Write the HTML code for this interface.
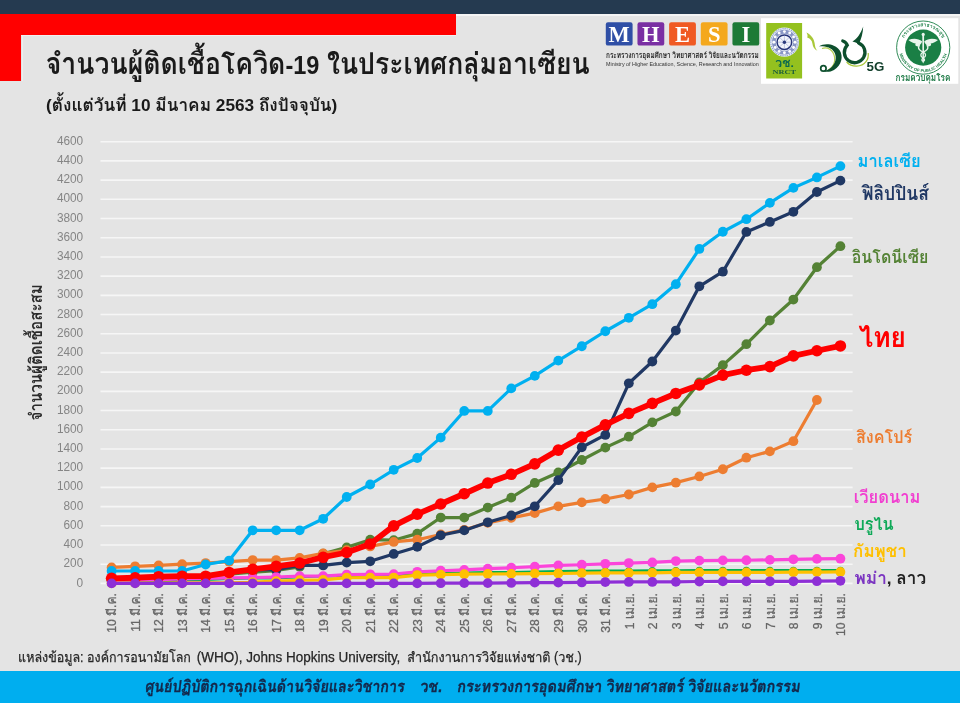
<!DOCTYPE html>
<html lang="th">
<head>
<meta charset="utf-8">
<title>จำนวนผู้ติดเชื้อโควิด-19 ในประเทศกลุ่มอาเซียน</title>
<style>
  html, body { margin: 0; padding: 0; }
  body {
    width: 960px; height: 703px; overflow: hidden; position: relative;
    background: #e4e4e4;
    font-family: "Liberation Sans", "Loma", "Noto Sans Thai Looped", "Noto Sans Thai", sans-serif;
    color: #111;
  }
  .abs { position: absolute; white-space: nowrap; line-height: 1; }
  .topbar { left: 0; top: 0; width: 960px; height: 14px; background: #253a50; }
  .topedge { left: 456px; top: 14px; width: 504px; height: 1.5px; background: #f4f4f4; }
  .redh { left: 0; top: 14px; width: 456px; height: 21px; background: #ff0000; }
  .redv { left: 0; top: 14px; width: 21px; height: 67px; background: #ff0000; }
  .edgeh { left: 21px; top: 35px; width: 435px; height: 1px; background: #f0f0f0; }
  .edgev { left: 21.5px; top: 35px; width: 1px; height: 46px; background: #eeeeee; }
  .footbar { left: 0; top: 671px; width: 960px; height: 32px; background: #00aeef; }
  .chart { position: absolute; left: 0; top: 0; }
  svg text { font-family: "Liberation Sans", "Loma", "Noto Sans Thai Looped", "Noto Sans Thai", sans-serif; }
  svg text.serif { font-family: "Liberation Serif", "DejaVu Serif", serif; }
</style>
</head>
<body>
<div class="abs topbar"></div>
<div class="abs topedge"></div>
<div class="abs edgeh"></div>
<div class="abs edgev"></div>
<div class="abs redh"></div>
<div class="abs redv"></div>
<div class="abs footbar"></div>


<svg class="chart logos" width="960" height="703" viewBox="0 0 960 703">
<rect x="605.80" y="22.2" width="26.8" height="23.4" rx="2.2" fill="#2f4fa6"/>
<text x="619.20" y="42.2" class="serif" font-weight="700" font-size="22.5" fill="#fff" text-anchor="middle">M</text>
<rect x="637.46" y="22.2" width="26.8" height="23.4" rx="2.2" fill="#7a2fa3"/>
<text x="650.86" y="42.2" class="serif" font-weight="700" font-size="22.5" fill="#fff" text-anchor="middle">H</text>
<rect x="669.12" y="22.2" width="26.8" height="23.4" rx="2.2" fill="#f05a23"/>
<text x="682.52" y="42.2" class="serif" font-weight="700" font-size="22.5" fill="#fff" text-anchor="middle">E</text>
<rect x="700.78" y="22.2" width="26.8" height="23.4" rx="2.2" fill="#f4a81d"/>
<text x="714.18" y="42.2" class="serif" font-weight="700" font-size="22.5" fill="#fff" text-anchor="middle">S</text>
<rect x="732.44" y="22.2" width="26.8" height="23.4" rx="2.2" fill="#1d7a36"/>
<text x="745.84" y="42.2" class="serif" font-weight="700" font-size="22.5" fill="#fff" text-anchor="middle">I</text>
<text x="606" y="58.2" font-size="7.8" font-weight="700" fill="#222" textLength="152.8" lengthAdjust="spacingAndGlyphs">กระทรวงการอุดมศึกษา วิทยาศาสตร์ วิจัยและนวัตกรรม</text>
<text x="606" y="66.2" font-size="5.6" fill="#333" textLength="152.8" lengthAdjust="spacingAndGlyphs">Ministry of Higher Education, Science, Research and Innovation</text>
<rect x="761" y="18.2" width="197.3" height="65.6" fill="#ffffff"/>
<rect x="766.2" y="23" width="35.9" height="55.5" fill="#94c11f"/>
<circle cx="784.4" cy="42.2" r="14.6" fill="#e9eef8"/>
<circle cx="784.4" cy="42.2" r="13.6" fill="none" stroke="#8fa0cf" stroke-width="1.1" stroke-dasharray="1.3 0.9"/>
<circle cx="784.4" cy="42.2" r="10.6" fill="none" stroke="#3b4f9a" stroke-width="3.6" opacity="0.55"/>
<circle cx="795.00" cy="42.20" r="1.45" fill="#fff"/>
<circle cx="793.58" cy="47.50" r="1.45" fill="#fff"/>
<circle cx="789.70" cy="51.38" r="1.45" fill="#fff"/>
<circle cx="784.40" cy="52.80" r="1.45" fill="#fff"/>
<circle cx="779.10" cy="51.38" r="1.45" fill="#fff"/>
<circle cx="775.22" cy="47.50" r="1.45" fill="#fff"/>
<circle cx="773.80" cy="42.20" r="1.45" fill="#fff"/>
<circle cx="775.22" cy="36.90" r="1.45" fill="#fff"/>
<circle cx="779.10" cy="33.02" r="1.45" fill="#fff"/>
<circle cx="784.40" cy="31.60" r="1.45" fill="#fff"/>
<circle cx="789.70" cy="33.02" r="1.45" fill="#fff"/>
<circle cx="793.58" cy="36.90" r="1.45" fill="#fff"/>
<circle cx="784.4" cy="42.2" r="7.3" fill="#f3f5fb" stroke="#27357a" stroke-width="1.5"/>
<line x1="784.4" y1="42.2" x2="790.90" y2="42.20" stroke="#9aa6d0" stroke-width="0.6"/>
<line x1="784.4" y1="42.2" x2="789.00" y2="46.80" stroke="#9aa6d0" stroke-width="0.6"/>
<line x1="784.4" y1="42.2" x2="784.40" y2="48.70" stroke="#9aa6d0" stroke-width="0.6"/>
<line x1="784.4" y1="42.2" x2="779.80" y2="46.80" stroke="#9aa6d0" stroke-width="0.6"/>
<line x1="784.4" y1="42.2" x2="777.90" y2="42.20" stroke="#9aa6d0" stroke-width="0.6"/>
<line x1="784.4" y1="42.2" x2="779.80" y2="37.60" stroke="#9aa6d0" stroke-width="0.6"/>
<line x1="784.4" y1="42.2" x2="784.40" y2="35.70" stroke="#9aa6d0" stroke-width="0.6"/>
<line x1="784.4" y1="42.2" x2="789.00" y2="37.60" stroke="#9aa6d0" stroke-width="0.6"/>
<circle cx="784.4" cy="42.2" r="1.7" fill="#2b3a7c"/>
<text x="784.6" y="66.6" font-size="11.8" font-weight="700" fill="#0d6a4e" text-anchor="middle" textLength="18.5" lengthAdjust="spacingAndGlyphs">วช.</text>
<text x="784.2" y="73.9" class="serif" font-size="6.9" font-weight="700" fill="#1a5c3a" text-anchor="middle" textLength="23.6" lengthAdjust="spacingAndGlyphs">NRCT</text>
<path d="M806.4 32.6 C810.6 34.6 813.8 38.4 814.6 43 C815 46.4 815.4 48.8 817.4 50.8 C814.2 49.2 812.8 46.6 812.4 43.4 C812 40.6 810.6 38.6 807.2 37.4 C808 35.8 807.4 34.2 806.4 32.6 Z" fill="#a9c838"/>
<path d="M822 48.5 C827 46.5 833.5 49.5 834.6 57.5 C835.3 63 832.5 67.5 828.5 70" fill="none" stroke="#a9c838" stroke-width="1.1" opacity="0.9"/>
<path d="M818.8 46.4 C824.5 42.6 834.5 43.4 839.6 50.2 C843.6 56 841.8 65.4 834 69.9 C830.6 71.9 826.6 72.3 823.6 71.2 C829.6 70.2 834 66 835.4 60.6 C836.8 54.6 833.8 49.6 828.6 47.6 C825.4 46.4 821.8 46.2 818.8 46.4 Z" fill="#0d4f2d"/>
<circle cx="823.4" cy="68.4" r="2.7" fill="none" stroke="#0d4f2d" stroke-width="1.7"/>
<path d="M858.6 42.9 A10.3 10.3 0 1 1 847.3 45.2 C846.6 43.2 845 41.6 842.8 41" fill="none" stroke="#0d4f2d" stroke-width="3.3" stroke-linecap="round"/>
<path d="M852.4 41.4 C856.6 39.2 860.8 33.6 863.2 26.4 C863 33 861.2 39.2 858.8 44.2 C856.8 42.6 854.6 41.8 852.4 41.4 Z" fill="#0d4f2d"/>
<path d="M846.6 62 C851.6 67.6 861.6 67.6 866.2 61.4 C868 59 868.6 56 868.2 53" fill="none" stroke="#a9c838" stroke-width="1.2"/>
<text x="866.6" y="71.3" font-size="12.2" font-weight="700" fill="#123f2b" textLength="17.8" lengthAdjust="spacingAndGlyphs">5G</text>
<circle cx="923.2" cy="47.6" r="26.6" fill="#fff" stroke="#1a7f45" stroke-width="0.9"/>
<circle cx="923.2" cy="47.6" r="18.1" fill="#1a7f45"/>
<defs><path id="arcT" d="M902.00 47.60 A21.2 21.2 0 0 1 944.40 47.60"/><path id="arcB" d="M898.60 47.60 A24.6 24.6 0 0 0 947.80 47.60"/></defs>
<text font-size="5.2" font-weight="700" fill="#1a7f45" text-anchor="middle"><textPath href="#arcT" startOffset="50%">กระทรวงสาธารณสุข</textPath></text>
<text font-size="4.1" font-weight="700" fill="#1a7f45" text-anchor="middle" letter-spacing="0.15"><textPath href="#arcB" startOffset="50%">MINISTRY OF PUBLIC HEALTH</textPath></text>
<path d="M922.3000000000001 34.6 L924.1 34.6 L923.9000000000001 62.1 L923.2 63.6 L922.5 62.1 Z" fill="#e9f5ec"/>
<circle cx="923.2" cy="34.400000000000006" r="1.6" fill="#e9f5ec"/>
<path d="M922.2 41.6 C918.2 38.1 913.2 38.1 908.4000000000001 40.0 C911.2 42.6 913.7 43.2 915.8000000000001 43.6 C914.4000000000001 45.4 916.2 46.6 918.0 46.4 C919.6 45.6 921.2 44.0 922.2 41.6 Z" fill="#e9f5ec"/>
<path d="M924.2 41.6 C928.2 38.1 933.2 38.1 938.0 40.0 C935.2 42.6 932.7 43.2 930.6 43.6 C932.0 45.4 930.2 46.6 928.4000000000001 46.4 C926.8000000000001 45.6 925.2 44.0 924.2 41.6 Z" fill="#e9f5ec"/>
<path d="M919.6 45.1 C916.7 48.6 920.2 50.800000000000004 923.2 52.2 C926.2 53.6 926.6 56.2 923.2 58.0 C921.2 59.2 921.6 60.6 923.2 61.2" fill="none" stroke="#e9f5ec" stroke-width="1.3"/>
<path d="M926.8000000000001 45.1 C929.7 48.6 926.2 50.800000000000004 923.2 52.2 C920.2 53.6 919.8000000000001 56.2 923.2 58.0 C925.2 59.2 924.8000000000001 60.6 923.2 61.2" fill="none" stroke="#e9f5ec" stroke-width="1.3"/>
<text x="895.6" y="81.4" font-size="9.6" font-weight="700" fill="#1e7a46" textLength="54.8" lengthAdjust="spacingAndGlyphs">กรมควบคุมโรค</text>
</svg>

<svg class="chart" width="960" height="703" viewBox="0 0 960 703" >
<g class="grid" stroke="#f6f6f6" stroke-width="1.6">
<line x1="100.5" x2="852.6" y1="583.40" y2="583.40"/>
<line x1="100.5" x2="852.6" y1="564.20" y2="564.20"/>
<line x1="100.5" x2="852.6" y1="544.99" y2="544.99"/>
<line x1="100.5" x2="852.6" y1="525.79" y2="525.79"/>
<line x1="100.5" x2="852.6" y1="506.58" y2="506.58"/>
<line x1="100.5" x2="852.6" y1="487.38" y2="487.38"/>
<line x1="100.5" x2="852.6" y1="468.17" y2="468.17"/>
<line x1="100.5" x2="852.6" y1="448.97" y2="448.97"/>
<line x1="100.5" x2="852.6" y1="429.77" y2="429.77"/>
<line x1="100.5" x2="852.6" y1="410.56" y2="410.56"/>
<line x1="100.5" x2="852.6" y1="391.36" y2="391.36"/>
<line x1="100.5" x2="852.6" y1="372.15" y2="372.15"/>
<line x1="100.5" x2="852.6" y1="352.95" y2="352.95"/>
<line x1="100.5" x2="852.6" y1="333.74" y2="333.74"/>
<line x1="100.5" x2="852.6" y1="314.54" y2="314.54"/>
<line x1="100.5" x2="852.6" y1="295.33" y2="295.33"/>
<line x1="100.5" x2="852.6" y1="276.13" y2="276.13"/>
<line x1="100.5" x2="852.6" y1="256.93" y2="256.93"/>
<line x1="100.5" x2="852.6" y1="237.72" y2="237.72"/>
<line x1="100.5" x2="852.6" y1="218.52" y2="218.52"/>
<line x1="100.5" x2="852.6" y1="199.31" y2="199.31"/>
<line x1="100.5" x2="852.6" y1="180.11" y2="180.11"/>
<line x1="100.5" x2="852.6" y1="160.90" y2="160.90"/>
<line x1="100.5" x2="852.6" y1="141.70" y2="141.70"/>
</g>
<g class="ylab" font-size="12.8" fill="#858585" text-anchor="end">
<text x="83.2" y="586.50" textLength="6.6" lengthAdjust="spacingAndGlyphs">0</text>
<text x="83.2" y="567.30" textLength="19.7" lengthAdjust="spacingAndGlyphs">200</text>
<text x="83.2" y="548.09" textLength="19.7" lengthAdjust="spacingAndGlyphs">400</text>
<text x="83.2" y="528.89" textLength="19.7" lengthAdjust="spacingAndGlyphs">600</text>
<text x="83.2" y="509.68" textLength="19.7" lengthAdjust="spacingAndGlyphs">800</text>
<text x="83.2" y="490.48" textLength="26.3" lengthAdjust="spacingAndGlyphs">1000</text>
<text x="83.2" y="471.27" textLength="26.3" lengthAdjust="spacingAndGlyphs">1200</text>
<text x="83.2" y="452.07" textLength="26.3" lengthAdjust="spacingAndGlyphs">1400</text>
<text x="83.2" y="432.87" textLength="26.3" lengthAdjust="spacingAndGlyphs">1600</text>
<text x="83.2" y="413.66" textLength="26.3" lengthAdjust="spacingAndGlyphs">1800</text>
<text x="83.2" y="394.46" textLength="26.3" lengthAdjust="spacingAndGlyphs">2000</text>
<text x="83.2" y="375.25" textLength="26.3" lengthAdjust="spacingAndGlyphs">2200</text>
<text x="83.2" y="356.05" textLength="26.3" lengthAdjust="spacingAndGlyphs">2400</text>
<text x="83.2" y="336.84" textLength="26.3" lengthAdjust="spacingAndGlyphs">2600</text>
<text x="83.2" y="317.64" textLength="26.3" lengthAdjust="spacingAndGlyphs">2800</text>
<text x="83.2" y="298.43" textLength="26.3" lengthAdjust="spacingAndGlyphs">3000</text>
<text x="83.2" y="279.23" textLength="26.3" lengthAdjust="spacingAndGlyphs">3200</text>
<text x="83.2" y="260.03" textLength="26.3" lengthAdjust="spacingAndGlyphs">3400</text>
<text x="83.2" y="240.82" textLength="26.3" lengthAdjust="spacingAndGlyphs">3600</text>
<text x="83.2" y="221.62" textLength="26.3" lengthAdjust="spacingAndGlyphs">3800</text>
<text x="83.2" y="202.41" textLength="26.3" lengthAdjust="spacingAndGlyphs">4000</text>
<text x="83.2" y="183.21" textLength="26.3" lengthAdjust="spacingAndGlyphs">4200</text>
<text x="83.2" y="164.00" textLength="26.3" lengthAdjust="spacingAndGlyphs">4400</text>
<text x="83.2" y="144.80" textLength="26.3" lengthAdjust="spacingAndGlyphs">4600</text>
</g>
<g class="xlab" font-size="12.8" fill="#666666" stroke="#666666" stroke-width="0.3" text-anchor="end">
<text transform="translate(116.30 593.0) rotate(-90) scale(0.95 1)">10 มี.ค.</text>
<text transform="translate(139.81 593.0) rotate(-90) scale(0.95 1)">11 มี.ค.</text>
<text transform="translate(163.32 593.0) rotate(-90) scale(0.95 1)">12 มี.ค.</text>
<text transform="translate(186.83 593.0) rotate(-90) scale(0.95 1)">13 มี.ค.</text>
<text transform="translate(210.34 593.0) rotate(-90) scale(0.95 1)">14 มี.ค.</text>
<text transform="translate(233.85 593.0) rotate(-90) scale(0.95 1)">15 มี.ค.</text>
<text transform="translate(257.36 593.0) rotate(-90) scale(0.95 1)">16 มี.ค.</text>
<text transform="translate(280.87 593.0) rotate(-90) scale(0.95 1)">17 มี.ค.</text>
<text transform="translate(304.38 593.0) rotate(-90) scale(0.95 1)">18 มี.ค.</text>
<text transform="translate(327.89 593.0) rotate(-90) scale(0.95 1)">19 มี.ค.</text>
<text transform="translate(351.40 593.0) rotate(-90) scale(0.95 1)">20 มี.ค.</text>
<text transform="translate(374.91 593.0) rotate(-90) scale(0.95 1)">21 มี.ค.</text>
<text transform="translate(398.42 593.0) rotate(-90) scale(0.95 1)">22 มี.ค.</text>
<text transform="translate(421.93 593.0) rotate(-90) scale(0.95 1)">23 มี.ค.</text>
<text transform="translate(445.44 593.0) rotate(-90) scale(0.95 1)">24 มี.ค.</text>
<text transform="translate(468.95 593.0) rotate(-90) scale(0.95 1)">25 มี.ค.</text>
<text transform="translate(492.46 593.0) rotate(-90) scale(0.95 1)">26 มี.ค.</text>
<text transform="translate(515.97 593.0) rotate(-90) scale(0.95 1)">27 มี.ค.</text>
<text transform="translate(539.48 593.0) rotate(-90) scale(0.95 1)">28 มี.ค.</text>
<text transform="translate(562.99 593.0) rotate(-90) scale(0.95 1)">29 มี.ค.</text>
<text transform="translate(586.50 593.0) rotate(-90) scale(0.95 1)">30 มี.ค.</text>
<text transform="translate(610.01 593.0) rotate(-90) scale(0.95 1)">31 มี.ค.</text>
<text transform="translate(633.52 593.0) rotate(-90) scale(0.95 1)">1 เม.ย.</text>
<text transform="translate(657.03 593.0) rotate(-90) scale(0.95 1)">2 เม.ย.</text>
<text transform="translate(680.54 593.0) rotate(-90) scale(0.95 1)">3 เม.ย.</text>
<text transform="translate(704.05 593.0) rotate(-90) scale(0.95 1)">4 เม.ย.</text>
<text transform="translate(727.56 593.0) rotate(-90) scale(0.95 1)">5 เม.ย.</text>
<text transform="translate(751.07 593.0) rotate(-90) scale(0.95 1)">6 เม.ย.</text>
<text transform="translate(774.58 593.0) rotate(-90) scale(0.95 1)">7 เม.ย.</text>
<text transform="translate(798.09 593.0) rotate(-90) scale(0.95 1)">8 เม.ย.</text>
<text transform="translate(821.60 593.0) rotate(-90) scale(0.95 1)">9 เม.ย.</text>
<text transform="translate(845.11 593.0) rotate(-90) scale(0.95 1)">10 เม.ย.</text>
</g>
<g class="s-id" fill="#548235" stroke="none"><polyline points="111.60,580.81 135.11,580.81 158.62,580.14 182.13,580.14 205.64,576.77 229.15,574.18 252.66,572.17 276.17,570.53 299.68,566.88 323.19,553.73 346.70,547.39 370.21,539.71 393.72,540.19 417.23,533.66 440.74,517.53 464.25,517.53 487.76,507.54 511.27,497.65 534.78,482.96 558.29,472.49 581.80,460.01 605.31,447.63 628.82,436.68 652.33,422.37 675.84,411.52 699.35,382.52 722.86,365.14 746.37,344.21 769.88,320.49 793.39,299.56 816.90,267.20 840.41,246.17" fill="none" stroke="#548235" stroke-width="3.2" stroke-linejoin="round" stroke-linecap="round"/>
<circle cx="111.60" cy="580.81" r="4.9"/><circle cx="135.11" cy="580.81" r="4.9"/><circle cx="158.62" cy="580.14" r="4.9"/><circle cx="182.13" cy="580.14" r="4.9"/><circle cx="205.64" cy="576.77" r="4.9"/><circle cx="229.15" cy="574.18" r="4.9"/><circle cx="252.66" cy="572.17" r="4.9"/><circle cx="276.17" cy="570.53" r="4.9"/><circle cx="299.68" cy="566.88" r="4.9"/><circle cx="323.19" cy="553.73" r="4.9"/><circle cx="346.70" cy="547.39" r="4.9"/><circle cx="370.21" cy="539.71" r="4.9"/><circle cx="393.72" cy="540.19" r="4.9"/><circle cx="417.23" cy="533.66" r="4.9"/><circle cx="440.74" cy="517.53" r="4.9"/><circle cx="464.25" cy="517.53" r="4.9"/><circle cx="487.76" cy="507.54" r="4.9"/><circle cx="511.27" cy="497.65" r="4.9"/><circle cx="534.78" cy="482.96" r="4.9"/><circle cx="558.29" cy="472.49" r="4.9"/><circle cx="581.80" cy="460.01" r="4.9"/><circle cx="605.31" cy="447.63" r="4.9"/><circle cx="628.82" cy="436.68" r="4.9"/><circle cx="652.33" cy="422.37" r="4.9"/><circle cx="675.84" cy="411.52" r="4.9"/><circle cx="699.35" cy="382.52" r="4.9"/><circle cx="722.86" cy="365.14" r="4.9"/><circle cx="746.37" cy="344.21" r="4.9"/><circle cx="769.88" cy="320.49" r="4.9"/><circle cx="793.39" cy="299.56" r="4.9"/><circle cx="816.90" cy="267.20" r="4.9"/><circle cx="840.41" cy="246.17" r="4.9"/>
</g>
<g class="s-sg" fill="#ED7D31" stroke="none"><polyline points="111.60,567.46 135.11,566.31 158.62,565.44 182.13,564.20 205.64,563.04 229.15,561.70 252.66,560.07 276.17,560.07 299.68,557.86 323.19,553.35 346.70,550.27 370.21,546.43 393.72,541.92 417.23,539.71 440.74,534.52 464.25,529.82 487.76,522.81 511.27,517.82 534.78,513.11 558.29,506.39 581.80,502.36 605.31,499.00 628.82,494.48 652.33,487.38 675.84,482.67 699.35,476.43 722.86,469.23 746.37,457.71 769.88,451.37 793.39,441.19 816.90,400.00" fill="none" stroke="#ED7D31" stroke-width="3.2" stroke-linejoin="round" stroke-linecap="round"/>
<circle cx="111.60" cy="567.46" r="4.9"/><circle cx="135.11" cy="566.31" r="4.9"/><circle cx="158.62" cy="565.44" r="4.9"/><circle cx="182.13" cy="564.20" r="4.9"/><circle cx="205.64" cy="563.04" r="4.9"/><circle cx="229.15" cy="561.70" r="4.9"/><circle cx="252.66" cy="560.07" r="4.9"/><circle cx="276.17" cy="560.07" r="4.9"/><circle cx="299.68" cy="557.86" r="4.9"/><circle cx="323.19" cy="553.35" r="4.9"/><circle cx="346.70" cy="550.27" r="4.9"/><circle cx="370.21" cy="546.43" r="4.9"/><circle cx="393.72" cy="541.92" r="4.9"/><circle cx="417.23" cy="539.71" r="4.9"/><circle cx="440.74" cy="534.52" r="4.9"/><circle cx="464.25" cy="529.82" r="4.9"/><circle cx="487.76" cy="522.81" r="4.9"/><circle cx="511.27" cy="517.82" r="4.9"/><circle cx="534.78" cy="513.11" r="4.9"/><circle cx="558.29" cy="506.39" r="4.9"/><circle cx="581.80" cy="502.36" r="4.9"/><circle cx="605.31" cy="499.00" r="4.9"/><circle cx="628.82" cy="494.48" r="4.9"/><circle cx="652.33" cy="487.38" r="4.9"/><circle cx="675.84" cy="482.67" r="4.9"/><circle cx="699.35" cy="476.43" r="4.9"/><circle cx="722.86" cy="469.23" r="4.9"/><circle cx="746.37" cy="457.71" r="4.9"/><circle cx="769.88" cy="451.37" r="4.9"/><circle cx="793.39" cy="441.19" r="4.9"/><circle cx="816.90" cy="400.00" r="4.9"/>
</g>
<g class="s-my" fill="#00B0F0" stroke="none"><polyline points="111.60,571.01 135.11,571.01 158.62,571.01 182.13,571.01 205.64,564.48 229.15,560.55 252.66,530.30 276.17,530.30 299.68,530.30 323.19,518.78 346.70,496.98 370.21,484.50 393.72,469.81 417.23,458.00 440.74,437.64 464.25,410.94 487.76,410.94 511.27,388.38 534.78,375.90 558.29,360.63 581.80,346.23 605.31,331.25 628.82,317.80 652.33,304.17 675.84,284.20 699.35,248.96 722.86,231.77 746.37,219.19 769.88,202.87 793.39,187.89 816.90,177.42 840.41,166.09" fill="none" stroke="#00B0F0" stroke-width="3.2" stroke-linejoin="round" stroke-linecap="round"/>
<circle cx="111.60" cy="571.01" r="4.9"/><circle cx="135.11" cy="571.01" r="4.9"/><circle cx="158.62" cy="571.01" r="4.9"/><circle cx="182.13" cy="571.01" r="4.9"/><circle cx="205.64" cy="564.48" r="4.9"/><circle cx="229.15" cy="560.55" r="4.9"/><circle cx="252.66" cy="530.30" r="4.9"/><circle cx="276.17" cy="530.30" r="4.9"/><circle cx="299.68" cy="530.30" r="4.9"/><circle cx="323.19" cy="518.78" r="4.9"/><circle cx="346.70" cy="496.98" r="4.9"/><circle cx="370.21" cy="484.50" r="4.9"/><circle cx="393.72" cy="469.81" r="4.9"/><circle cx="417.23" cy="458.00" r="4.9"/><circle cx="440.74" cy="437.64" r="4.9"/><circle cx="464.25" cy="410.94" r="4.9"/><circle cx="487.76" cy="410.94" r="4.9"/><circle cx="511.27" cy="388.38" r="4.9"/><circle cx="534.78" cy="375.90" r="4.9"/><circle cx="558.29" cy="360.63" r="4.9"/><circle cx="581.80" cy="346.23" r="4.9"/><circle cx="605.31" cy="331.25" r="4.9"/><circle cx="628.82" cy="317.80" r="4.9"/><circle cx="652.33" cy="304.17" r="4.9"/><circle cx="675.84" cy="284.20" r="4.9"/><circle cx="699.35" cy="248.96" r="4.9"/><circle cx="722.86" cy="231.77" r="4.9"/><circle cx="746.37" cy="219.19" r="4.9"/><circle cx="769.88" cy="202.87" r="4.9"/><circle cx="793.39" cy="187.89" r="4.9"/><circle cx="816.90" cy="177.42" r="4.9"/><circle cx="840.41" cy="166.09" r="4.9"/>
</g>
<g class="s-ph" fill="#203864" stroke="none"><polyline points="111.60,580.23 135.11,578.69 158.62,578.41 182.13,577.25 205.64,577.25 229.15,572.74 252.66,569.96 276.17,569.76 299.68,565.44 323.19,565.44 346.70,562.56 370.21,561.31 393.72,553.92 417.23,546.91 440.74,535.29 464.25,530.40 487.76,522.33 511.27,515.51 534.78,506.29 558.29,480.18 581.80,447.24 605.31,434.95 628.82,383.29 652.33,361.49 675.84,330.57 699.35,286.31 722.86,271.71 746.37,231.96 769.88,221.97 793.39,211.80 816.90,192.02 840.41,180.59" fill="none" stroke="#203864" stroke-width="3.2" stroke-linejoin="round" stroke-linecap="round"/>
<circle cx="111.60" cy="580.23" r="4.9"/><circle cx="135.11" cy="578.69" r="4.9"/><circle cx="158.62" cy="578.41" r="4.9"/><circle cx="182.13" cy="577.25" r="4.9"/><circle cx="205.64" cy="577.25" r="4.9"/><circle cx="229.15" cy="572.74" r="4.9"/><circle cx="252.66" cy="569.96" r="4.9"/><circle cx="276.17" cy="569.76" r="4.9"/><circle cx="299.68" cy="565.44" r="4.9"/><circle cx="323.19" cy="565.44" r="4.9"/><circle cx="346.70" cy="562.56" r="4.9"/><circle cx="370.21" cy="561.31" r="4.9"/><circle cx="393.72" cy="553.92" r="4.9"/><circle cx="417.23" cy="546.91" r="4.9"/><circle cx="440.74" cy="535.29" r="4.9"/><circle cx="464.25" cy="530.40" r="4.9"/><circle cx="487.76" cy="522.33" r="4.9"/><circle cx="511.27" cy="515.51" r="4.9"/><circle cx="534.78" cy="506.29" r="4.9"/><circle cx="558.29" cy="480.18" r="4.9"/><circle cx="581.80" cy="447.24" r="4.9"/><circle cx="605.31" cy="434.95" r="4.9"/><circle cx="628.82" cy="383.29" r="4.9"/><circle cx="652.33" cy="361.49" r="4.9"/><circle cx="675.84" cy="330.57" r="4.9"/><circle cx="699.35" cy="286.31" r="4.9"/><circle cx="722.86" cy="271.71" r="4.9"/><circle cx="746.37" cy="231.96" r="4.9"/><circle cx="769.88" cy="221.97" r="4.9"/><circle cx="793.39" cy="211.80" r="4.9"/><circle cx="816.90" cy="192.02" r="4.9"/><circle cx="840.41" cy="180.59" r="4.9"/>
</g>
<g class="s-bn" fill="#00B050" stroke="none"><polyline points="111.60,583.30 135.11,582.34 158.62,581.00 182.13,579.85 205.64,579.56 229.15,578.60 252.66,578.21 276.17,578.02 299.68,576.87 323.19,576.20 346.70,575.91 370.21,575.43 393.72,574.95 417.23,574.66 440.74,573.41 464.25,572.93 487.76,572.45 511.27,572.36 534.78,571.88 558.29,571.30 581.80,571.21 605.31,571.01 628.82,570.82 652.33,570.63 675.84,570.53 699.35,570.44 722.86,570.44 746.37,570.44 769.88,570.44 793.39,570.44 816.90,570.44 840.41,570.34" fill="none" stroke="#00B050" stroke-width="2.8" stroke-linejoin="round" stroke-linecap="round"/>
<circle cx="111.60" cy="583.30" r="3.6"/><circle cx="135.11" cy="582.34" r="3.6"/><circle cx="158.62" cy="581.00" r="3.6"/><circle cx="182.13" cy="579.85" r="3.6"/><circle cx="205.64" cy="579.56" r="3.6"/><circle cx="229.15" cy="578.60" r="3.6"/><circle cx="252.66" cy="578.21" r="3.6"/><circle cx="276.17" cy="578.02" r="3.6"/><circle cx="299.68" cy="576.87" r="3.6"/><circle cx="323.19" cy="576.20" r="3.6"/><circle cx="346.70" cy="575.91" r="3.6"/><circle cx="370.21" cy="575.43" r="3.6"/><circle cx="393.72" cy="574.95" r="3.6"/><circle cx="417.23" cy="574.66" r="3.6"/><circle cx="440.74" cy="573.41" r="3.6"/><circle cx="464.25" cy="572.93" r="3.6"/><circle cx="487.76" cy="572.45" r="3.6"/><circle cx="511.27" cy="572.36" r="3.6"/><circle cx="534.78" cy="571.88" r="3.6"/><circle cx="558.29" cy="571.30" r="3.6"/><circle cx="581.80" cy="571.21" r="3.6"/><circle cx="605.31" cy="571.01" r="3.6"/><circle cx="628.82" cy="570.82" r="3.6"/><circle cx="652.33" cy="570.63" r="3.6"/><circle cx="675.84" cy="570.53" r="3.6"/><circle cx="699.35" cy="570.44" r="3.6"/><circle cx="722.86" cy="570.44" r="3.6"/><circle cx="746.37" cy="570.44" r="3.6"/><circle cx="769.88" cy="570.44" r="3.6"/><circle cx="793.39" cy="570.44" r="3.6"/><circle cx="816.90" cy="570.44" r="3.6"/><circle cx="840.41" cy="570.34" r="3.6"/>
</g>
<g class="s-vn" fill="#FB45DA" stroke="none"><polyline points="111.60,580.42 135.11,580.04 158.62,579.66 182.13,578.89 205.64,578.31 229.15,577.93 252.66,577.54 276.17,577.06 299.68,576.10 323.19,576.10 346.70,574.57 370.21,574.28 393.72,574.18 417.23,571.78 440.74,570.73 464.25,569.86 487.76,568.71 511.27,567.75 534.78,566.69 558.29,565.35 581.80,564.77 605.31,563.81 628.82,563.04 652.33,562.47 675.84,561.03 699.35,560.64 722.86,560.35 746.37,560.26 769.88,559.87 793.39,559.30 816.90,558.91 840.41,558.72" fill="none" stroke="#FB45DA" stroke-width="3.2" stroke-linejoin="round" stroke-linecap="round"/>
<circle cx="111.60" cy="580.42" r="4.9"/><circle cx="135.11" cy="580.04" r="4.9"/><circle cx="158.62" cy="579.66" r="4.9"/><circle cx="182.13" cy="578.89" r="4.9"/><circle cx="205.64" cy="578.31" r="4.9"/><circle cx="229.15" cy="577.93" r="4.9"/><circle cx="252.66" cy="577.54" r="4.9"/><circle cx="276.17" cy="577.06" r="4.9"/><circle cx="299.68" cy="576.10" r="4.9"/><circle cx="323.19" cy="576.10" r="4.9"/><circle cx="346.70" cy="574.57" r="4.9"/><circle cx="370.21" cy="574.28" r="4.9"/><circle cx="393.72" cy="574.18" r="4.9"/><circle cx="417.23" cy="571.78" r="4.9"/><circle cx="440.74" cy="570.73" r="4.9"/><circle cx="464.25" cy="569.86" r="4.9"/><circle cx="487.76" cy="568.71" r="4.9"/><circle cx="511.27" cy="567.75" r="4.9"/><circle cx="534.78" cy="566.69" r="4.9"/><circle cx="558.29" cy="565.35" r="4.9"/><circle cx="581.80" cy="564.77" r="4.9"/><circle cx="605.31" cy="563.81" r="4.9"/><circle cx="628.82" cy="563.04" r="4.9"/><circle cx="652.33" cy="562.47" r="4.9"/><circle cx="675.84" cy="561.03" r="4.9"/><circle cx="699.35" cy="560.64" r="4.9"/><circle cx="722.86" cy="560.35" r="4.9"/><circle cx="746.37" cy="560.26" r="4.9"/><circle cx="769.88" cy="559.87" r="4.9"/><circle cx="793.39" cy="559.30" r="4.9"/><circle cx="816.90" cy="558.91" r="4.9"/><circle cx="840.41" cy="558.72" r="4.9"/>
</g>
<g class="s-kh" fill="#FFC000" stroke="none"><polyline points="111.60,583.21 135.11,583.11 158.62,583.11 182.13,582.92 205.64,582.73 229.15,582.73 252.66,582.25 276.17,581.10 299.68,580.23 323.19,579.85 346.70,577.73 370.21,577.64 393.72,577.54 417.23,575.05 440.74,574.66 464.25,574.18 487.76,573.99 511.27,573.89 534.78,573.61 558.29,573.51 581.80,573.13 605.31,572.93 628.82,572.93 652.33,572.84 675.84,572.45 699.35,572.45 722.86,572.45 746.37,572.45 769.88,572.36 793.39,572.17 816.90,572.07 840.41,571.97" fill="none" stroke="#FFC000" stroke-width="3.2" stroke-linejoin="round" stroke-linecap="round"/>
<circle cx="111.60" cy="583.21" r="4.9"/><circle cx="135.11" cy="583.11" r="4.9"/><circle cx="158.62" cy="583.11" r="4.9"/><circle cx="182.13" cy="582.92" r="4.9"/><circle cx="205.64" cy="582.73" r="4.9"/><circle cx="229.15" cy="582.73" r="4.9"/><circle cx="252.66" cy="582.25" r="4.9"/><circle cx="276.17" cy="581.10" r="4.9"/><circle cx="299.68" cy="580.23" r="4.9"/><circle cx="323.19" cy="579.85" r="4.9"/><circle cx="346.70" cy="577.73" r="4.9"/><circle cx="370.21" cy="577.64" r="4.9"/><circle cx="393.72" cy="577.54" r="4.9"/><circle cx="417.23" cy="575.05" r="4.9"/><circle cx="440.74" cy="574.66" r="4.9"/><circle cx="464.25" cy="574.18" r="4.9"/><circle cx="487.76" cy="573.99" r="4.9"/><circle cx="511.27" cy="573.89" r="4.9"/><circle cx="534.78" cy="573.61" r="4.9"/><circle cx="558.29" cy="573.51" r="4.9"/><circle cx="581.80" cy="573.13" r="4.9"/><circle cx="605.31" cy="572.93" r="4.9"/><circle cx="628.82" cy="572.93" r="4.9"/><circle cx="652.33" cy="572.84" r="4.9"/><circle cx="675.84" cy="572.45" r="4.9"/><circle cx="699.35" cy="572.45" r="4.9"/><circle cx="722.86" cy="572.45" r="4.9"/><circle cx="746.37" cy="572.45" r="4.9"/><circle cx="769.88" cy="572.36" r="4.9"/><circle cx="793.39" cy="572.17" r="4.9"/><circle cx="816.90" cy="572.07" r="4.9"/><circle cx="840.41" cy="571.97" r="4.9"/>
</g>
<g class="s-th" fill="#FF0000" stroke="none"><polyline points="111.60,578.31 135.11,577.73 158.62,576.68 182.13,576.20 205.64,576.20 229.15,572.45 252.66,569.28 276.17,566.40 299.68,563.04 323.19,557.28 346.70,552.48 370.21,543.94 393.72,525.88 417.23,514.17 440.74,503.99 464.25,493.72 487.76,483.06 511.27,474.32 534.78,463.85 558.29,450.12 581.80,437.06 605.31,424.87 628.82,413.35 652.33,403.36 675.84,393.47 699.35,384.92 722.86,375.13 746.37,370.23 769.88,366.58 793.39,355.92 816.90,350.74 840.41,345.94" fill="none" stroke="#FF0000" stroke-width="5.8" stroke-linejoin="round" stroke-linecap="round"/>
<circle cx="111.60" cy="578.31" r="5.8"/><circle cx="135.11" cy="577.73" r="5.8"/><circle cx="158.62" cy="576.68" r="5.8"/><circle cx="182.13" cy="576.20" r="5.8"/><circle cx="205.64" cy="576.20" r="5.8"/><circle cx="229.15" cy="572.45" r="5.8"/><circle cx="252.66" cy="569.28" r="5.8"/><circle cx="276.17" cy="566.40" r="5.8"/><circle cx="299.68" cy="563.04" r="5.8"/><circle cx="323.19" cy="557.28" r="5.8"/><circle cx="346.70" cy="552.48" r="5.8"/><circle cx="370.21" cy="543.94" r="5.8"/><circle cx="393.72" cy="525.88" r="5.8"/><circle cx="417.23" cy="514.17" r="5.8"/><circle cx="440.74" cy="503.99" r="5.8"/><circle cx="464.25" cy="493.72" r="5.8"/><circle cx="487.76" cy="483.06" r="5.8"/><circle cx="511.27" cy="474.32" r="5.8"/><circle cx="534.78" cy="463.85" r="5.8"/><circle cx="558.29" cy="450.12" r="5.8"/><circle cx="581.80" cy="437.06" r="5.8"/><circle cx="605.31" cy="424.87" r="5.8"/><circle cx="628.82" cy="413.35" r="5.8"/><circle cx="652.33" cy="403.36" r="5.8"/><circle cx="675.84" cy="393.47" r="5.8"/><circle cx="699.35" cy="384.92" r="5.8"/><circle cx="722.86" cy="375.13" r="5.8"/><circle cx="746.37" cy="370.23" r="5.8"/><circle cx="769.88" cy="366.58" r="5.8"/><circle cx="793.39" cy="355.92" r="5.8"/><circle cx="816.90" cy="350.74" r="5.8"/><circle cx="840.41" cy="345.94" r="5.8"/>
</g>
<g class="s-mm" fill="#8E2FD6" stroke="none"><polyline points="111.60,583.40 135.11,583.40 158.62,583.40 182.13,583.40 205.64,583.40 229.15,583.40 252.66,583.40 276.17,583.40 299.68,583.40 323.19,583.40 346.70,583.40 370.21,583.40 393.72,583.40 417.23,583.40 440.74,583.21 464.25,583.11 487.76,583.11 511.27,582.92 534.78,582.63 558.29,582.63 581.80,582.44 605.31,582.06 628.82,581.96 652.33,581.96 675.84,581.86 699.35,581.48 722.86,581.38 746.37,581.38 769.88,581.29 793.39,581.29 816.90,581.19 840.41,580.81" fill="none" stroke="#8E2FD6" stroke-width="3.2" stroke-linejoin="round" stroke-linecap="round"/>
<circle cx="111.60" cy="583.40" r="4.9"/><circle cx="135.11" cy="583.40" r="4.9"/><circle cx="158.62" cy="583.40" r="4.9"/><circle cx="182.13" cy="583.40" r="4.9"/><circle cx="205.64" cy="583.40" r="4.9"/><circle cx="229.15" cy="583.40" r="4.9"/><circle cx="252.66" cy="583.40" r="4.9"/><circle cx="276.17" cy="583.40" r="4.9"/><circle cx="299.68" cy="583.40" r="4.9"/><circle cx="323.19" cy="583.40" r="4.9"/><circle cx="346.70" cy="583.40" r="4.9"/><circle cx="370.21" cy="583.40" r="4.9"/><circle cx="393.72" cy="583.40" r="4.9"/><circle cx="417.23" cy="583.40" r="4.9"/><circle cx="440.74" cy="583.21" r="4.9"/><circle cx="464.25" cy="583.11" r="4.9"/><circle cx="487.76" cy="583.11" r="4.9"/><circle cx="511.27" cy="582.92" r="4.9"/><circle cx="534.78" cy="582.63" r="4.9"/><circle cx="558.29" cy="582.63" r="4.9"/><circle cx="581.80" cy="582.44" r="4.9"/><circle cx="605.31" cy="582.06" r="4.9"/><circle cx="628.82" cy="581.96" r="4.9"/><circle cx="652.33" cy="581.96" r="4.9"/><circle cx="675.84" cy="581.86" r="4.9"/><circle cx="699.35" cy="581.48" r="4.9"/><circle cx="722.86" cy="581.38" r="4.9"/><circle cx="746.37" cy="581.38" r="4.9"/><circle cx="769.88" cy="581.29" r="4.9"/><circle cx="793.39" cy="581.29" r="4.9"/><circle cx="816.90" cy="581.19" r="4.9"/><circle cx="840.41" cy="580.81" r="4.9"/>
</g>
<text class="title" x="45.77" y="73.60" font-size="29.6" font-weight="700" fill="#1a1a1a" textLength="544.03" lengthAdjust="spacingAndGlyphs">จำนวนผู้ติดเชื้อโควิด<tspan font-size="26.2">-19</tspan> ในประเทศกลุ่มอาเซียน</text>
<text class="subtitle" x="46.13" y="111.10" font-size="17.1" font-weight="700" fill="#1a1a1a" textLength="291.23" lengthAdjust="spacingAndGlyphs">(ตั้งแต่วันที่ 10 มีนาคม 2563 ถึงปัจจุบัน)</text>
<g transform="translate(41.8 419.7) rotate(-90)"><text class="ytitle" x="-0.78" y="0.00" font-size="17.4" font-weight="700" fill="#2b2b2b" textLength="136.25" lengthAdjust="spacingAndGlyphs">จำนวนผู้ติดเชื้อสะสม</text></g>
<text class="lab l-my" x="857.53" y="166.80" font-size="17" font-weight="700" fill="#00B0F0" textLength="63.12" lengthAdjust="spacingAndGlyphs">มาเลเซีย</text>
<text class="lab l-ph" x="861.93" y="199.60" font-size="19.3" font-weight="700" fill="#203864" textLength="66.99" lengthAdjust="spacingAndGlyphs">ฟิลิปปินส์</text>
<text class="lab l-id" x="851.71" y="262.60" font-size="17.6" font-weight="700" fill="#548235" textLength="76.77" lengthAdjust="spacingAndGlyphs">อินโดนีเซีย</text>
<text class="lab l-th" x="858.52" y="347.40" font-size="28.5" font-weight="700" fill="#FF0000" textLength="47.45" lengthAdjust="spacingAndGlyphs">ไทย</text>
<text class="lab l-sg" x="855.94" y="443.10" font-size="17" font-weight="700" fill="#ED7D31" textLength="56.27" lengthAdjust="spacingAndGlyphs">สิงคโปร์</text>
<text class="lab l-vn" x="853.63" y="502.60" font-size="17" font-weight="700" fill="#F13FD0" textLength="66.82" lengthAdjust="spacingAndGlyphs">เวียดนาม</text>
<text class="lab l-bn" x="854.53" y="529.80" font-size="17" font-weight="700" fill="#0FA958" textLength="39.22" lengthAdjust="spacingAndGlyphs">บรูไน</text>
<text class="lab l-kh" x="853.11" y="557.30" font-size="17.5" font-weight="700" fill="#FFC000" textLength="53.76" lengthAdjust="spacingAndGlyphs">กัมพูชา</text>
<text class="lab l-mm" x="854.53" y="584.20" font-size="17" font-weight="700" fill="#7B35C1" textLength="71.52" lengthAdjust="spacingAndGlyphs">พม่า<tspan fill="#222">, ลาว</tspan></text>
<text class="source" x="18.12" y="661.60" font-size="14.1" font-weight="400" fill="#262626" textLength="172.77" lengthAdjust="spacingAndGlyphs" stroke="#262626" stroke-width="0.25">แหล่งข้อมูล: องค์การอนามัยโลก</text>
<text class="source" x="196.87" y="661.60" font-size="14.1" font-weight="400" fill="#262626" textLength="203.52" lengthAdjust="spacingAndGlyphs" stroke="#262626" stroke-width="0.25">(WHO), Johns Hopkins University,</text>
<text class="source" x="407.37" y="661.60" font-size="14.1" font-weight="400" fill="#262626" textLength="174.27" lengthAdjust="spacingAndGlyphs" stroke="#262626" stroke-width="0.25">สำนักงานการวิจัยแห่งชาติ (วช.)</text>
<text class="foot" x="144.67" y="691.60" font-size="16.3" font-weight="700" fill="#14284b" textLength="259.52" lengthAdjust="spacingAndGlyphs" stroke="#14284b" stroke-width="0.35" transform="translate(145.4 691.6) skewX(-7) translate(-145.4 -691.6)">ศูนย์ปฏิบัติการฉุกเฉินด้านวิจัยและวิชาการ</text>
<text class="foot" x="419.77" y="691.60" font-size="16.3" font-weight="700" fill="#14284b" textLength="21.92" lengthAdjust="spacingAndGlyphs" stroke="#14284b" stroke-width="0.35" transform="translate(420.5 691.6) skewX(-7) translate(-420.5 -691.6)">วช.</text>
<text class="foot" x="456.77" y="691.60" font-size="16.3" font-weight="700" fill="#14284b" textLength="343.17" lengthAdjust="spacingAndGlyphs" stroke="#14284b" stroke-width="0.35" transform="translate(457.5 691.6) skewX(-7) translate(-457.5 -691.6)">กระทรวงการอุดมศึกษา วิทยาศาสตร์ วิจัยและนวัตกรรม</text>
</svg>


</body>
</html>
